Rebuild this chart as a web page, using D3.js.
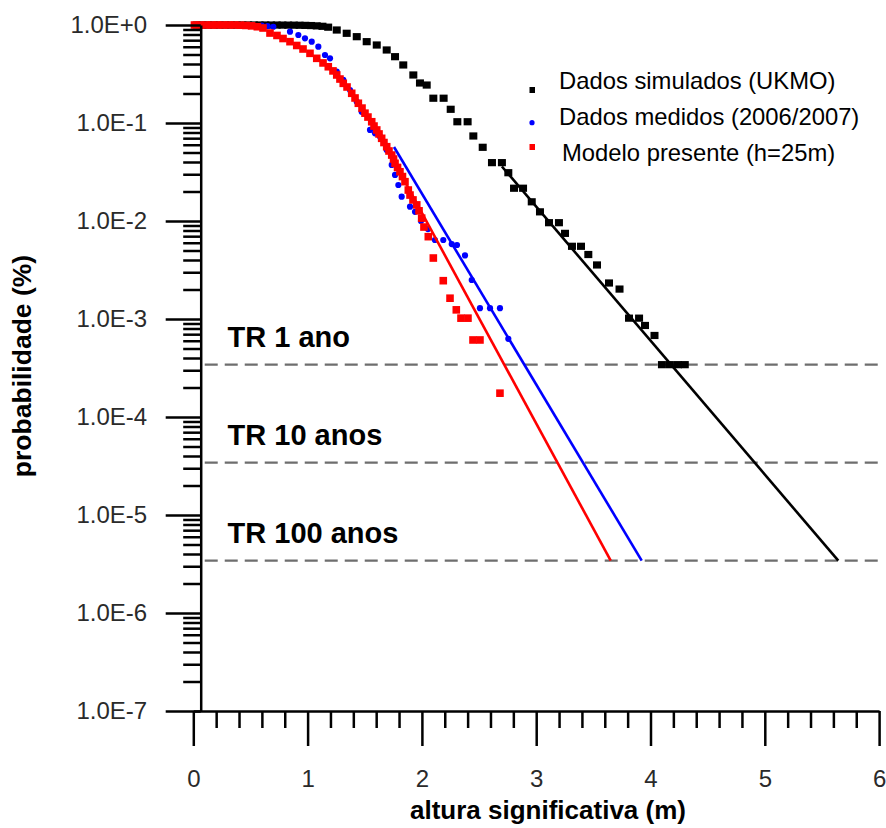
<!DOCTYPE html>
<html><head><meta charset="utf-8">
<script src="https://cdn.jsdelivr.net/npm/d3@7"></script>
<style>
body{margin:0;background:#fff;}
svg{display:block;font-family:"Liberation Sans",Arial,Helvetica,sans-serif;}
</style>
</head><body>
<svg id="c" width="886" height="828"></svg>
<script>
// ---- data ----
const yTickValues = [1, 1e-1, 1e-2, 1e-3, 1e-4, 1e-5, 1e-6, 1e-7];
const yTickLabels = ["1.0E+0","1.0E-1","1.0E-2","1.0E-3","1.0E-4","1.0E-5","1.0E-6","1.0E-7"];
const xTickValues = [0, 1, 2, 3, 4, 5, 6];
const xTickLabels = ["0","1","2","3","4","5","6"];

const seriesNames = ["Dados simulados (UKMO)", "Dados medidos (2006/2007)", "Modelo presente (h=25m)"];

// Dados simulados (UKMO) - black squares
const blackX = [0.03,0.08,0.13,0.18,0.23,0.28,0.33,0.38,0.43,0.48,0.53,0.58,0.63,0.68,0.73,0.78,0.83,0.88,0.93,0.98,1.03,1.08,1.13,1.18,
  1.255,1.342,1.430,1.517,1.605,1.692,1.765,1.837,1.925,1.983,2.042,2.10,2.19,2.252,2.31,2.40,
  2.450,2.532,2.613,2.70,2.756,2.806,2.885,2.961,3.033,3.112,3.199,3.252,3.313,3.392,3.456,
  3.532,3.637,3.729,3.812,3.90,3.952,4.035,4.10,4.17,4.24,4.30];
const blackP = [1,1,1,1,1,1,1,1,1,1,1,1,1,0.999,0.999,0.998,0.997,0.996,0.994,0.991,0.987,0.98,0.97,0.95,
  0.889,0.823,0.760,0.676,0.625,0.556,0.475,0.391,0.309,0.256,0.244,0.179,0.179,0.138,0.103,0.103,
  0.0737,0.0565,0.0394,0.0394,0.0311,0.0216,0.0216,0.0157,0.0124,0.00961,0.00961,0.00748,0.00552,0.00552,0.00455,
  0.00356,0.00233,0.00202,0.00102,0.00102,0.000859,0.000679,0.000342,0.000342,0.000342,0.000342];

// Dados medidos (2006/2007) - blue dots
const blueX = [0.05,0.12,0.20,0.28,0.36,0.44,0.52,0.60,0.65,
  0.700,0.846,0.919,0.977,1.036,1.094,1.152,1.196,1.255,1.312,1.371,1.430,1.473,1.546,1.590,1.634,
  1.692,1.736,1.765,1.794,1.823,1.896,1.940,1.992,2.053,2.114,2.187,2.261,2.307,2.377,2.436,
  2.508,2.596,2.683,2.756];
const blueP = [1,1,1,1,1,1,0.995,0.985,0.975,
  0.96,0.855,0.791,0.731,0.676,0.601,0.494,0.457,0.334,0.275,0.217,0.165,0.130,0.0849,0.0785,0.0725,
  0.0530,0.0373,0.0295,0.0233,0.0177,0.0140,0.0124,0.0100,0.00828,0.0064,0.0064,0.00582,0.00569,0.00445,0.0025,
  0.00129,0.00129,0.00129,0.000628];

// Modelo presente (h=25m) - red squares
const redX = [0.01,0.06,0.11,0.16,0.21,0.26,0.31,0.36,0.41,0.46,0.51,0.56,
  0.610,0.671,0.732,0.785,0.846,0.905,0.960,1.021,1.080,1.135,1.181,1.222,1.255,1.283,1.312,1.345,
  1.386,1.415,1.444,1.476,1.502,1.528,1.561,1.581,1.605,1.625,1.648,1.668,1.692,1.712,1.736,1.752,
  1.765,1.787,1.808,1.830,1.852,1.881,1.896,1.922,1.955,1.975,1.998,2.018,2.056,2.100,2.187,2.246,
  2.301,2.342,2.403,2.447,2.508,2.683];
const redP = [1,1,1,1,1,1,1,1,0.995,0.99,0.98,0.96,
  0.932,0.828,0.782,0.728,0.676,0.618,0.569,0.514,0.457,0.41,0.375,0.34,0.309,0.281,0.254,0.233,
  0.201,0.180,0.159,0.142,0.126,0.115,0.103,0.0931,0.0849,0.0773,0.0698,0.0632,0.0573,0.0518,0.0471,0.0429,
  0.0388,0.0352,0.0318,0.0284,0.0252,0.0207,0.0184,0.0164,0.0146,0.0127,0.0107,0.00868,0.00692,0.00419,0.00246,0.00163,
  0.00124,0.00102,0.00102,0.000611,0.000611,0.000175];

// fitted lines (start, end)
const blackFitX = [2.70, 5.643], blackFitP = [0.0360, 3.42e-6];
const blueFitX  = [1.756, 3.923], blueFitP  = [0.0569, 3.42e-6];
const redFitX   = [1.72, 3.652],  redFitP   = [0.0483, 3.42e-6];

// return period levels
const trLevels = [3.42e-4, 3.42e-5, 3.42e-6];
const trLabels = ["TR 1 ano", "TR 10 anos", "TR 100 anos"];

const xTitle = "altura significativa (m)";
const yTitle = "probabilidade (%)";

// ---- drawing ----
const svg = d3.select("#c");
const x = d3.scaleLinear().domain([0, 6]).range([193.3, 879.1]);
const y = d3.scaleLog().domain([1e-7, 1]).range([711, 25]);
const yAxisX = 200.7;
const axisW = 2.5;

// dashed return period lines
const trG = svg.append("g");
trLevels.forEach((lv, i) => {
  trG.append("line")
    .attr("x1", x(0.1)).attr("x2", x(6.03))
    .attr("y1", y(lv)).attr("y2", y(lv))
    .attr("stroke", "#6e6e6e").attr("stroke-width", 2.4)
    .attr("stroke-dasharray", "13,7");
  trG.append("text")
    .attr("x", x(0.3)).attr("y", y(lv) - 17.5)
    .attr("font-size", 29).attr("font-weight", "bold").attr("fill", "#000")
    .text(trLabels[i]);
});

function zip(xs, ps) { return xs.map((v, i) => ({x: v, p: ps[i]})); }

// black squares
svg.append("g").selectAll("rect").data(zip(blackX, blackP)).join("rect")
  .attr("x", d => x(d.x) - 4).attr("y", d => y(d.p) - 3.6)
  .attr("width", 8).attr("height", 7.2).attr("fill", "#000");

// blue dots
svg.append("g").selectAll("circle").data(zip(blueX, blueP)).join("circle")
  .attr("cx", d => x(d.x)).attr("cy", d => y(d.p)).attr("r", 3.1).attr("fill", "#0000ff");

// red squares
svg.append("g").selectAll("rect").data(zip(redX, redP)).join("rect")
  .attr("x", d => x(d.x) - 3.8).attr("y", d => y(d.p) - 3.8)
  .attr("width", 7.6).attr("height", 7.6).attr("fill", "#ff0000");

// fitted lines
const line = d3.line().x(d => x(d.x)).y(d => y(d.p));
[[blackFitX, blackFitP, "#000"], [redFitX, redFitP, "#ff0000"], [blueFitX, blueFitP, "#0000ff"]].forEach(([xs, ps, c]) => {
  svg.append("path").datum(zip(xs, ps)).attr("d", line)
    .attr("fill", "none").attr("stroke", c).attr("stroke-width", 2.6);
});

// y axis major
svg.append("g").attr("transform", `translate(${yAxisX},0)`)
  .call(d3.axisLeft(y).tickValues(yTickValues).tickSize(35).tickSizeOuter(0)
    .tickPadding(18.5).tickFormat((d, i) => yTickLabels[i]));
// y axis minor
const yMinor = y.ticks().filter(v => Math.abs(Math.log10(v) - Math.round(Math.log10(v))) > 1e-6);
svg.append("g").attr("transform", `translate(${yAxisX},0)`)
  .call(d3.axisLeft(y).tickValues(yMinor).tickSize(17.5).tickSizeOuter(0).tickFormat(""))
  .select(".domain").remove();

// x axis major
svg.append("g").attr("transform", "translate(0,711)")
  .call(d3.axisBottom(x).tickValues(xTickValues).tickSize(35).tickSizeOuter(0)
    .tickPadding(24).tickFormat((d, i) => xTickLabels[i]));
const xMinor = x.ticks(30).filter(v => Math.abs(v - Math.round(v)) > 1e-6);
svg.append("g").attr("transform", "translate(0,711)")
  .call(d3.axisBottom(x).tickValues(xMinor).tickSize(17).tickSizeOuter(0).tickFormat(""))
  .select(".domain").remove();

svg.selectAll(".domain").attr("stroke", "#000").attr("stroke-width", axisW);
svg.selectAll(".tick line").attr("stroke", "#000").attr("stroke-width", axisW);
svg.selectAll(".tick text").attr("fill", "#2a2a2a").attr("font-size", 24)
  .attr("font-family", '"Liberation Sans",Arial,sans-serif');

// axis titles
svg.append("text").attr("x", 548).attr("y", 819).attr("text-anchor", "middle")
  .attr("font-size", 26).attr("font-weight", "bold").text(xTitle);
svg.append("text").attr("transform", "translate(31,366) rotate(-90)").attr("text-anchor", "middle")
  .attr("font-size", 26.5).attr("font-weight", "bold").text(yTitle);

// legend
const lg = svg.append("g");
lg.append("rect").attr("x", 529.5).attr("y", 87).attr("width", 5.5).attr("height", 6).attr("fill", "#000");
lg.append("circle").attr("cx", 532).attr("cy", 122.7).attr("r", 2.6).attr("fill", "#0000ff");
lg.append("rect").attr("x", 529.5).attr("y", 144).attr("width", 5.5).attr("height", 6).attr("fill", "#ff0000");
const legY = [89.3, 125, 161];
const legX = [559, 559, 562];
seriesNames.forEach((n, i) => {
  lg.append("text").attr("x", legX[i]).attr("y", legY[i]).attr("font-size", 23.8).attr("fill", "#000").text(n);
});
</script>
</body></html>
